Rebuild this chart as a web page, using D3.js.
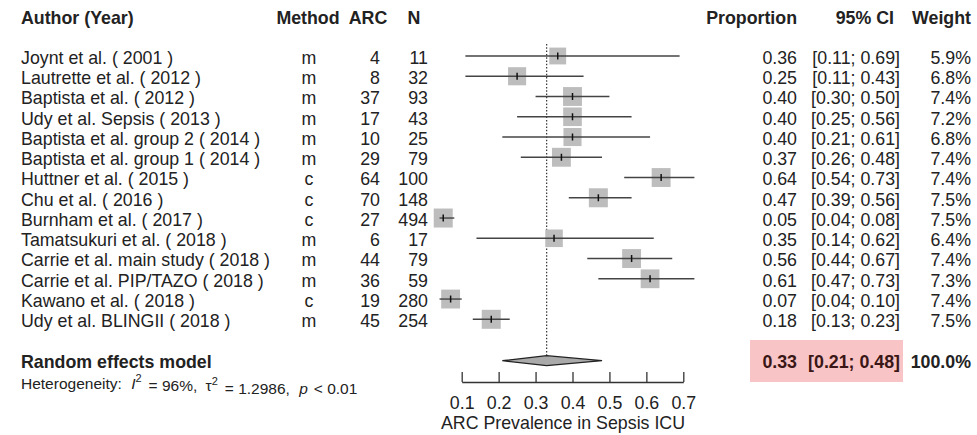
<!DOCTYPE html>
<html>
<head>
<meta charset="utf-8">
<script src="https://cdn.jsdelivr.net/npm/d3@7"></script>
<style>
  body { margin: 0; background: #fff; }
  svg { display: block; font-family: "Liberation Sans", Arial, sans-serif; }
</style>
</head>
<body>
<svg id="chart"></svg>
<script>
// Study data
const authors = [
  "Joynt et al. ( 2001 )", "Lautrette et al. ( 2012 )", "Baptista et al. ( 2012 )",
  "Udy et al. Sepsis ( 2013 )", "Baptista et al. group 2 ( 2014 )", "Baptista et al. group 1 ( 2014 )",
  "Huttner et al. ( 2015 )", "Chu et al. ( 2016 )", "Burnham et al. ( 2017 )",
  "Tamatsukuri et al. ( 2018 )", "Carrie et al. main study ( 2018 )", "Carrie et al. PIP/TAZO ( 2018 )",
  "Kawano et al. ( 2018 )", "Udy et al. BLINGII ( 2018 )"
];
const methods = ["m", "m", "m", "m", "m", "m", "c", "c", "c", "m", "m", "m", "c", "m"];
const arc = [4, 8, 37, 17, 10, 29, 64, 70, 27, 6, 44, 36, 19, 45];
const totals = [11, 32, 93, 43, 25, 79, 100, 148, 494, 17, 79, 59, 280, 254];
const proportion = [0.36, 0.25, 0.40, 0.40, 0.40, 0.37, 0.64, 0.47, 0.05, 0.35, 0.56, 0.61, 0.07, 0.18];
const lower = [0.11, 0.11, 0.30, 0.25, 0.21, 0.26, 0.54, 0.39, 0.04, 0.14, 0.44, 0.47, 0.04, 0.13];
const upper = [0.69, 0.43, 0.50, 0.56, 0.61, 0.48, 0.73, 0.56, 0.08, 0.62, 0.67, 0.73, 0.10, 0.23];
const weight = [5.9, 6.8, 7.4, 7.2, 6.8, 7.4, 7.4, 7.5, 7.5, 6.4, 7.4, 7.3, 7.4, 7.5];

const pooled = { est: 0.33, lower: 0.21, upper: 0.48, weight: 100.0 };
const xTicks = [0.1, 0.2, 0.3, 0.4, 0.5, 0.6, 0.7];

const width = 977, height = 435;
const fs = 17.8;
const textColor = "#222";

const svg = d3.select("#chart")
    .attr("width", width)
    .attr("height", height);

const x = d3.scaleLinear().domain([0.1, 0.7]).range([461.7, 683.3]);
const y = d3.scaleLinear().domain([0, 13]).range([56, 319.3]);
const side = d3.scaleSqrt().domain([0, 7.5]).range([0, 19]);
const f2 = d3.format(".2f");
const f1 = d3.format(".1f");

const pooledY = 360.7;

// Column headers
const headers = [
    { t: "Author (Year)", x: 21, a: "start" },
    { t: "Method", x: 308, a: "middle" },
    { t: "ARC", x: 368, a: "middle" },
    { t: "N", x: 414, a: "middle" },
    { t: "Proportion", x: 797, a: "end" },
    { t: "95% CI", x: 894, a: "end" },
    { t: "Weight", x: 971, a: "end" }
];
svg.append("g").selectAll("text")
    .data(headers)
    .join("text")
    .attr("x", d => d.x)
    .attr("y", 17.5)
    .attr("dy", "0.36em")
    .attr("text-anchor", d => d.a)
    .attr("font-size", fs)
    .attr("font-weight", "bold")
    .attr("fill", textColor)
    .text(d => d.t);

// Table columns
const cols = [
    { vals: authors, x: 21, a: "start" },
    { vals: methods, x: 309, a: "middle" },
    { vals: arc, x: 380, a: "end" },
    { vals: totals, x: 428, a: "end" },
    { vals: proportion.map(f2), x: 797, a: "end" },
    { vals: lower.map((l, i) => `[${f2(l)}; ${f2(upper[i])}]`), x: 900, a: "end" },
    { vals: weight.map(w => f1(w) + "%"), x: 971, a: "end" }
];
cols.forEach(c => {
    svg.append("g").selectAll("text")
        .data(c.vals)
        .join("text")
        .attr("x", c.x)
        .attr("y", (d, i) => y(i) + 1.5)
        .attr("dy", "0.36em")
        .attr("text-anchor", c.a)
        .attr("font-size", fs)
        .attr("fill", textColor)
        .text(d => d);
});

// Pooled estimate row
svg.append("rect")
    .attr("x", 750)
    .attr("y", 340)
    .attr("width", 153)
    .attr("height", 42)
    .attr("fill", "#f9c4c5");

svg.append("text")
    .attr("x", 21).attr("y", pooledY + 1).attr("dy", "0.36em")
    .attr("font-size", fs).attr("font-weight", "bold").attr("fill", textColor)
    .text("Random effects model");

const pooledText = [
    { t: f2(pooled.est), x: 797, c: "#3a1616" },
    { t: `[${f2(pooled.lower)}; ${f2(pooled.upper)}]`, x: 900, c: "#3a1616" },
    { t: f1(pooled.weight) + "%", x: 971, c: textColor }
];
svg.append("g").selectAll("text")
    .data(pooledText)
    .join("text")
    .attr("x", d => d.x)
    .attr("y", pooledY + 1)
    .attr("dy", "0.36em")
    .attr("text-anchor", "end")
    .attr("font-size", fs)
    .attr("font-weight", "bold")
    .attr("fill", d => d.c)
    .text(d => d.t);

// Heterogeneity line (plotmath-like spacing)
const het = svg.append("text")
    .attr("x", 21).attr("y", 383).attr("dy", "0.36em")
    .attr("font-size", 15.5).attr("fill", textColor);
het.append("tspan").text("Heterogeneity: ");
het.append("tspan").attr("font-style", "italic").attr("dx", 5).text("I");
het.append("tspan").attr("font-size", 11).attr("dy", "-0.6em").text("2");
het.append("tspan").attr("dy", "0.6em").attr("dx", 7).text("= 96%, ");
het.append("tspan").attr("dx", 4).text("\u03c4");
het.append("tspan").attr("font-size", 11).attr("dy", "-0.6em").text("2");
het.append("tspan").attr("dy", "0.6em").attr("dx", 7).text("= 1.2986, ");
het.append("tspan").attr("font-style", "italic").attr("dx", 5).text("p");
het.append("tspan").attr("dx", 6).text("< 0.01");

// Reference line at pooled estimate
svg.append("line")
    .attr("x1", x(pooled.est)).attr("x2", x(pooled.est))
    .attr("y1", 44).attr("y2", pooledY - 4)
    .attr("stroke", "#333")
    .attr("stroke-width", 1.2)
    .attr("stroke-dasharray", "1.5,1.8");

// Study markers
const studies = proportion.map((p, i) => ({ p, lo: lower[i], hi: upper[i], w: weight[i], i }));

svg.append("g").selectAll("rect")
    .data(studies)
    .join("rect")
    .attr("x", d => x(d.p) - side(d.w) / 2)
    .attr("y", d => y(d.i) - side(d.w) / 2)
    .attr("width", d => side(d.w))
    .attr("height", d => side(d.w))
    .attr("fill", "#bdbdbd");

svg.append("g").selectAll("line")
    .data(studies)
    .join("line")
    .attr("x1", d => x(d.lo))
    .attr("x2", d => x(d.hi))
    .attr("y1", d => y(d.i))
    .attr("y2", d => y(d.i))
    .attr("stroke", "#444")
    .attr("stroke-width", 1.4);

svg.append("g").selectAll("line")
    .data(studies)
    .join("line")
    .attr("x1", d => x(d.p))
    .attr("x2", d => x(d.p))
    .attr("y1", d => y(d.i) - 3.5)
    .attr("y2", d => y(d.i) + 3.5)
    .attr("stroke", "#111")
    .attr("stroke-width", 1.5);

// Pooled diamond
const dh = 5;
svg.append("path")
    .attr("d", `M${x(pooled.lower)},${pooledY} L${x(pooled.est)},${pooledY - dh} L${x(pooled.upper)},${pooledY} L${x(pooled.est)},${pooledY + dh} Z`)
    .attr("fill", "#aaa")
    .attr("stroke", "#222")
    .attr("stroke-width", 1.2);

// X axis: ticks point upward, labels below
const axis = svg.append("g")
    .attr("transform", "translate(0,382)")
    .call(d3.axisBottom(x)
        .tickValues(xTicks)
        .tickFormat(d3.format(".1f"))
        .tickSizeInner(-10)
        .tickSizeOuter(0)
        .tickPadding(14));
axis.select(".domain").attr("stroke", "#333").attr("stroke-width", 1.3);
axis.selectAll(".tick line").attr("stroke", "#333").attr("stroke-width", 1.3);
axis.selectAll(".tick text")
    .attr("font-size", fs)
    .attr("font-family", "Liberation Sans, Arial, sans-serif")
    .attr("fill", textColor);

svg.append("text")
    .attr("x", 563)
    .attr("y", 423)
    .attr("dy", "0.36em")
    .attr("text-anchor", "middle")
    .attr("font-size", fs)
    .attr("fill", textColor)
    .text("ARC Prevalence in Sepsis ICU");
</script>
</body>
</html>
